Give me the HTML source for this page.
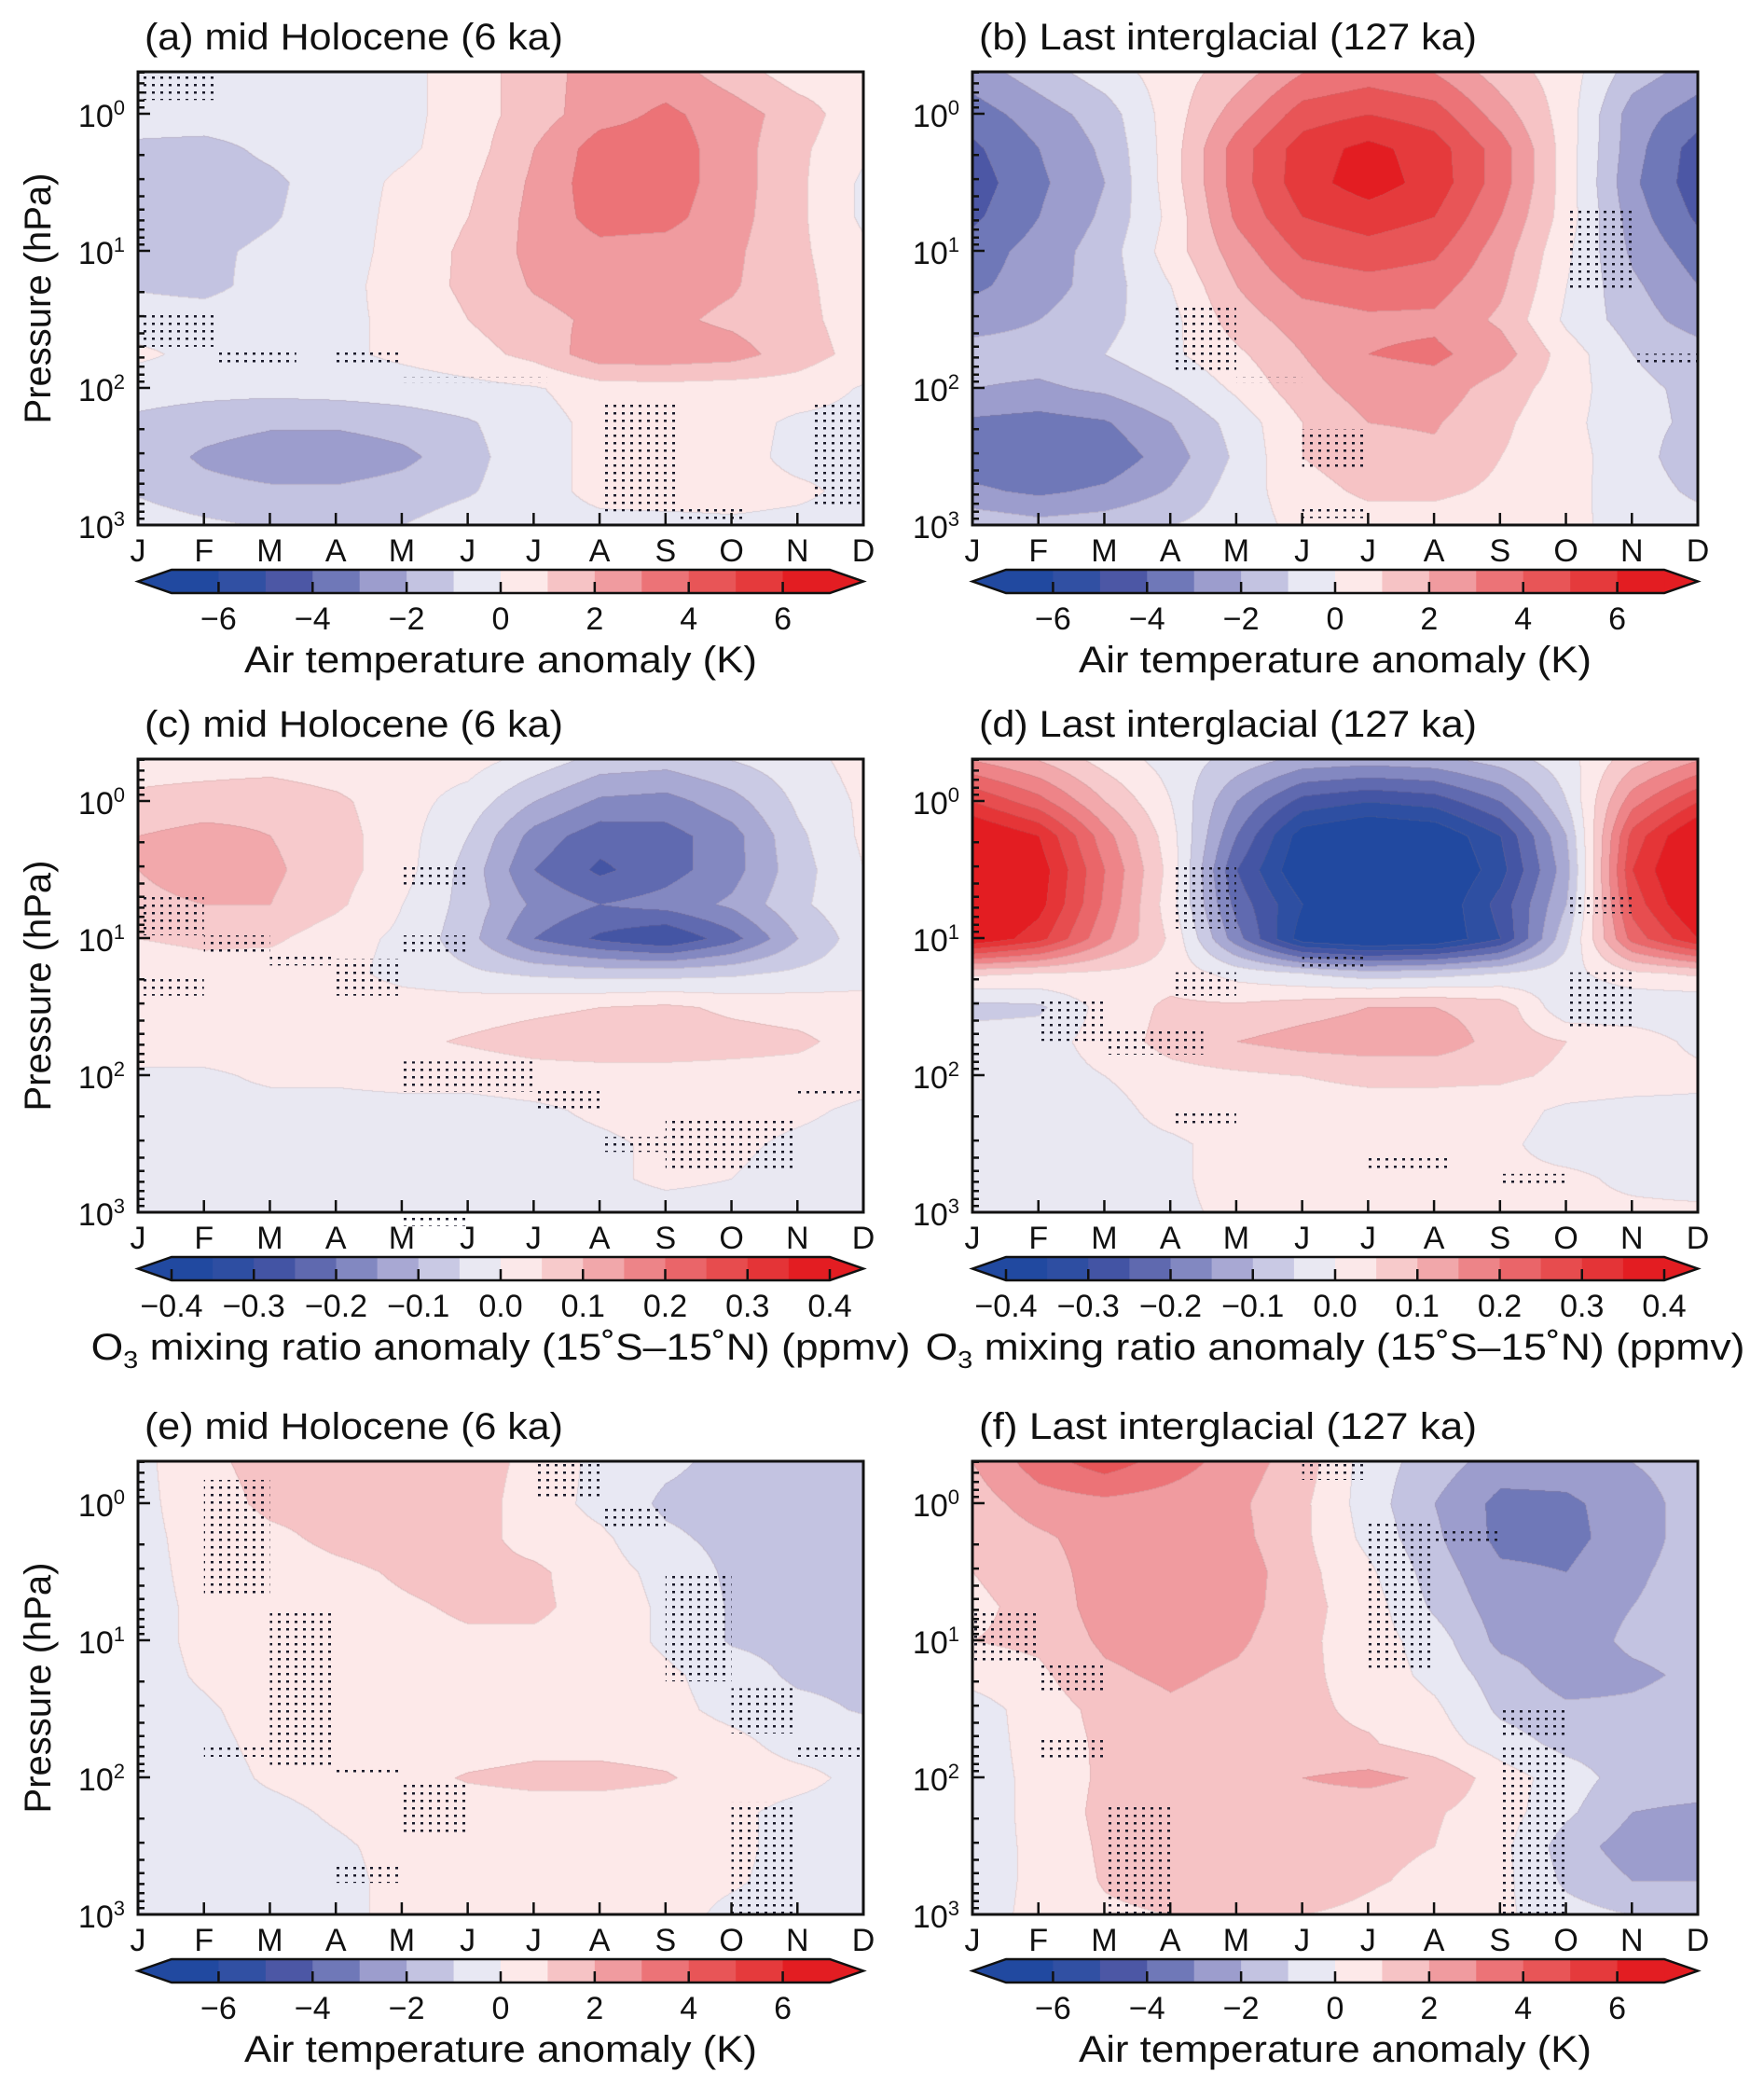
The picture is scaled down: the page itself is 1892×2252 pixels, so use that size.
<!DOCTYPE html>
<html><head><meta charset="utf-8">
<style>
html,body{margin:0;padding:0;background:#fff;}
#wrap{position:relative;width:1892px;height:2252px;overflow:hidden;}
#cv{position:absolute;left:0;top:0;}
#svg{position:absolute;left:0;top:0;}
text{font-family:"Liberation Sans Narrow","Liberation Sans","DejaVu Sans",sans-serif;fill:#111;}
</style></head>
<body>
<div id="wrap">
<canvas id="cv" width="1892" height="2252"></canvas>
<svg id="svg" width="1892" height="2252" viewBox="0 0 1892 2252" xmlns="http://www.w3.org/2000/svg">
<defs>
<pattern id="dots" width="9" height="8" patternUnits="userSpaceOnUse"><rect x="1" y="2" width="3" height="2.5" fill="#1a1a2a"/></pattern>
</defs>
</svg>
</div>
<script>
// ---------- data ----------
const months = ['J','F','M','A','M','J','J','A','S','O','N','D'];
const levels = [-0.3,0,0.25,0.5,0.75,1,1.25,1.5,1.75,2,2.25,2.5,2.75,3]; // log10(p)
const tempTicks = [-6,-4,-2,0,2,4,6];
const o3Ticks = [-0.4,-0.3,-0.2,-0.1,0.0,0.1,0.2,0.3,0.4];
const yTickExp = [0,1,2,3];

const gridA = [
[-0.5,-0.5,-0.5,-0.5,-0.3,0.5,1.5,2.5,2.5,1.5,0.5,0.5],
[-0.5,-0.5,-0.5,-0.5,-0.3,0.5,1.5,2.6,3.2,2.5,1.5,0.3],
[-1.2,-1.3,-0.8,-0.5,-0.2,0.5,2,3.5,3.5,2.5,1.2,0.2],
[-1.5,-1.5,-1.2,-0.5,0.2,0.8,2.2,3.6,3.5,2.5,1.2,-0.2],
[-1.5,-1.5,-1.1,-0.5,0.3,1.0,2.3,3.4,3.3,2.4,1.2,-0.2],
[-1.2,-1.2,-0.8,-0.5,0.4,1.2,2.3,2.7,2.6,2.2,1.2,0.2],
[-1.1,-1.3,-0.6,-0.4,0.5,1.2,2.1,2.5,2.4,2.1,1.3,0.3],
[-0.5,-0.5,-0.4,-0.3,0.3,1.0,1.7,2.2,2.2,1.8,1.3,0.5],
[0.2,-0.3,-0.2,-0.2,0.2,0.6,1.3,2.6,2.6,2.4,1.5,0.6],
[-0.6,-0.7,-0.7,-0.6,-0.5,-0.3,-0.1,0.5,0.6,0.5,0.5,-0.1],
[-1.2,-1.5,-1.8,-1.8,-1.5,-1.1,-0.4,0.3,0.4,0.4,-0.2,-0.3],
[-1.3,-2.2,-2.7,-2.8,-2.3,-1.3,-0.4,0.3,0.4,0.4,-0.3,-0.3],
[-1.1,-1.6,-1.8,-1.8,-1.5,-1.1,-0.4,0.3,0.4,0.4,0.2,-0.3],
[-0.5,-0.8,-1.1,-1.1,-1.0,-0.5,-0.4,-0.3,-0.3,-0.2,-0.3,-0.4]];
const gridB = [
[-2.5,-1.5,-0.5,0.5,1.5,3,3.5,3,1.5,0.5,-1.5,-2.5],
[-3.5,-2.5,-1.5,0.5,2.5,4.5,5,4.5,2.5,0.5,-2.5,-3.5],
[-4.2,-3,-1.8,0.5,3.5,5.5,6.3,5.5,3.5,0.5,-2.6,-4.5],
[-4.5,-3.2,-2,0.5,3.5,5.6,6.5,5.6,3.5,0.5,-2.8,-4.6],
[-4.2,-3,-1.8,0.3,3.2,5,5.5,5,3,0.5,-2.5,-4.2],
[-3.5,-2.6,-1.5,0.5,2.5,4.2,4.6,4.2,2.5,0.2,-2.2,-3.5],
[-3.2,-2.5,-1.5,0,2,3.3,3.6,3.4,2.2,0,-1.8,-3],
[-2.5,-2,-1.3,-0.3,1.5,2.5,2.8,2.8,1.8,-0.2,-1.5,-2.5],
[-1.5,-1.5,-1,-0.2,0.8,2,3,3.2,2.5,0.5,-1,-1.5],
[-2,-2.2,-1.8,-1,0.2,1.6,2.5,2.6,1.5,0.5,-0.8,-1.2],
[-3.2,-3.4,-3.1,-2,-0.6,1,2,2.1,1.2,0.3,-0.7,-1.2],
[-3.6,-3.9,-3.7,-2.5,-0.8,1,1.6,1.8,1,0.4,-0.6,-1.6],
[-2.8,-3.2,-2.8,-1.9,-0.5,0.6,1.2,1.2,0.8,0.3,-0.5,-1.2],
[-1.2,-1.6,-1.4,-1,-0.5,0.3,0.5,0.5,0.3,0.2,-0.3,-0.6]];
const gridC = [
[0.03,0.03,0.03,0.02,0.02,0.02,-0.02,-0.07,-0.08,-0.05,-0.02,0.02],
[0.06,0.07,0.08,0.06,0.02,-0.02,-0.1,-0.16,-0.17,-0.12,-0.04,0.01],
[0.1,0.12,0.1,0.07,0.02,-0.05,-0.17,-0.23,-0.22,-0.17,-0.06,0.01],
[0.1,0.12,0.11,0.07,0.02,-0.07,-0.2,-0.26,-0.22,-0.17,-0.07,0.0],
[0.09,0.1,0.1,0.06,0.0,-0.07,-0.16,-0.2,-0.18,-0.14,-0.06,-0.01],
[0.05,0.06,0.06,0.02,-0.01,-0.08,-0.2,-0.26,-0.3,-0.22,-0.1,-0.02],
[0.02,0.03,0.02,0.02,-0.02,-0.04,-0.06,-0.07,-0.07,-0.06,-0.04,-0.02],
[0.02,0.02,0.02,0.03,0.03,0.03,0.04,0.05,0.06,0.04,0.03,0.02],
[0.03,0.03,0.03,0.03,0.04,0.055,0.07,0.08,0.08,0.07,0.06,0.03],
[-0.01,-0.01,0.01,0.01,0.02,0.02,0.03,0.03,0.03,0.03,0.03,0.02],
[-0.02,-0.02,-0.02,-0.02,-0.02,-0.02,-0.01,0.01,0.02,0.02,0.01,-0.01],
[-0.02,-0.02,-0.02,-0.02,-0.02,-0.02,-0.02,-0.01,0.01,0.01,-0.01,-0.02],
[-0.02,-0.02,-0.02,-0.02,-0.02,-0.02,-0.02,-0.01,0.01,0.0,-0.02,-0.02],
[-0.02,-0.02,-0.02,-0.02,-0.02,-0.02,-0.02,-0.02,-0.02,-0.02,-0.02,-0.02]];
const gridD = [
[0.15,0.1,0.03,-0.02,-0.07,-0.12,-0.13,-0.12,-0.08,-0.02,0.08,0.15],
[0.3,0.22,0.1,0.0,-0.15,-0.27,-0.3,-0.28,-0.2,-0.05,0.18,0.3],
[0.42,0.35,0.17,0.02,-0.2,-0.38,-0.42,-0.4,-0.3,-0.1,0.27,0.42],
[0.45,0.38,0.2,0.03,-0.25,-0.4,-0.45,-0.42,-0.32,-0.12,0.3,0.45],
[0.45,0.37,0.19,0.02,-0.22,-0.35,-0.42,-0.4,-0.28,-0.1,0.27,0.42],
[0.4,0.32,0.16,0.04,-0.18,-0.38,-0.42,-0.4,-0.3,-0.06,0.22,0.35],
[0.06,0.05,0.04,0.03,-0.02,-0.05,-0.08,-0.07,-0.05,-0.02,0.04,0.06],
[-0.07,-0.06,0.02,0.06,0.06,0.08,0.1,0.1,0.08,-0.04,-0.05,-0.05],
[-0.02,-0.02,0.02,0.07,0.1,0.12,0.13,0.13,0.08,0.05,0.04,-0.02],
[-0.02,-0.02,0.0,0.03,0.04,0.05,0.06,0.06,0.06,0.04,0.03,0.02],
[-0.02,-0.02,-0.02,0.02,0.03,0.03,0.03,0.03,0.02,-0.01,-0.02,-0.02],
[-0.02,-0.02,-0.02,-0.01,0.02,0.03,0.03,0.03,0.01,-0.02,-0.02,-0.02],
[-0.02,-0.02,-0.02,-0.01,0.02,0.03,0.03,0.02,0.01,0.01,-0.01,-0.02],
[-0.02,-0.02,-0.02,-0.01,0.01,0.02,0.02,0.02,0.02,0.01,0.01,0.01]];
const gridE = [
[-0.3,0.8,1.3,1.4,1.5,1.5,0.7,-0.3,-0.8,-1.3,-1.5,-1.5],
[-0.3,0.6,1.2,1.3,1.5,1.5,0.5,-0.3,-1.2,-1.4,-1.5,-1.5],
[-0.3,0.4,0.8,1.2,1.4,1.4,0.6,0.2,-0.8,-1.3,-1.5,-1.5],
[-0.3,0.3,0.6,0.8,1.1,1.3,1.2,0.4,-0.3,-1.2,-1.4,-1.5],
[-0.3,0.2,0.5,0.7,0.9,1.1,1.2,0.6,-0.2,-1.1,-1.4,-1.5],
[-0.3,0.2,0.4,0.6,0.8,0.9,0.8,0.6,-0.2,-1.1,-1.3,-1.5],
[-0.3,0.1,0.4,0.5,0.6,0.6,0.6,0.5,0.2,-0.5,-1.2,-1.3],
[-0.3,-0.1,0.3,0.4,0.5,0.5,0.5,0.5,0.3,-0.3,-0.7,-1.1],
[-0.3,-0.2,0.2,0.3,0.4,0.5,0.7,0.7,0.6,0.3,-0.4,-0.4],
[-0.3,-0.3,0.1,0.3,0.6,1.1,1.3,1.3,1.1,0.5,0.3,-0.3],
[-0.3,-0.3,-0.2,0.1,0.3,0.4,0.5,0.5,0.4,0.2,-0.3,-0.4],
[-0.3,-0.3,-0.3,-0.1,0.2,0.3,0.4,0.4,0.3,0.2,-0.3,-0.4],
[-0.3,-0.3,-0.3,-0.2,0.2,0.3,0.4,0.3,0.3,0.1,-0.3,-0.4],
[-0.3,-0.3,-0.3,-0.2,0.2,0.3,0.3,0.3,0.3,-0.2,-0.3,-0.4]];
const gridF = [
[2,3.5,4.5,3.5,2.5,1.5,-0.5,-1.5,-2.5,-2.5,-2,-1.5],
[1.5,2.5,2.7,2.5,2.2,1.2,-0.5,-2,-3.3,-3.2,-2.5,-1.5],
[1.2,1.8,2.5,2.6,2.3,1.2,-0.3,-1.8,-3.3,-3.3,-2.5,-1.5],
[1.0,1.5,2.5,2.7,2.6,1.3,0.2,-1.5,-2.8,-3,-2.2,-1.5],
[0.8,1.3,2.5,2.7,2.5,1.3,0.5,-1.2,-2.5,-2.5,-2,-1.5],
[1.0,1.2,2.2,2.5,2.2,1.2,0.5,-0.5,-2.3,-2.5,-1.8,-1.6],
[0.4,0.8,1.8,2.2,1.8,1.2,0.6,-0.3,-1.5,-2.5,-2.2,-1.8],
[-0.5,0.5,1.3,1.8,1.5,1.2,0.8,0.2,-1.2,-1.8,-1.8,-1.6],
[-0.5,0.4,1.2,1.5,1.3,1.2,1.1,0.5,-0.5,-1.3,-1.5,-1.3],
[-0.5,0.3,1.2,1.6,1.5,2.0,2.3,1.8,0.5,-0.5,-1.5,-1.5],
[-0.5,0.3,1.3,1.6,1.5,1.5,1.3,1.1,0.5,-0.8,-2,-2.2],
[-0.4,0.2,1.2,1.6,1.6,1.6,1.2,1.0,0.3,-1.5,-2.5,-2.5],
[-0.4,0.2,1.1,1.5,1.5,1.5,1.1,0.8,0.3,-1.2,-2,-2],
[-0.3,0.2,0.8,1.0,1.0,1.0,0.8,0.5,0.2,-0.6,-1,-1.2]];

// stippled (significance) regions: [month0, month1, logp0, logp1]
const stipA = [[0,1.2,-0.28,-0.1],[0,1.2,1.45,1.7],[1.2,2.4,1.72,1.85],[3,4,1.72,1.85],[4,6.2,1.92,1.96],[7,8.2,2.12,2.9],[8.2,9.2,2.88,2.96],[10.2,11,2.12,2.85]];
const stipB = [[3,4,1.38,1.88],[5,6,2.3,2.6],[5,6,2.85,2.95],[9,10,0.7,1.3],[10,11,1.75,1.85],[4,5,1.92,1.96]];
const stipC = [[0,1,0.69,0.98],[0,1,1.27,1.42],[1,2,0.98,1.1],[2,3,1.1,1.2],[3,4,1.15,1.42],[4,5,0.45,0.64],[4,5,0.98,1.12],[4,6,1.9,2.12],[6,7,2.1,2.26],[7,8,2.45,2.56],[8,10,2.3,2.68],[10,11,2.1,2.15],[4,5,3.0,3.1]];
const stipD = [[3,4,0.45,0.93],[3,4,1.25,1.42],[1,2,1.45,1.75],[2,3.5,1.66,1.85],[5,6,1.12,1.24],[9,10,0.7,0.82],[9,10,1.25,1.68],[3,4,2.25,2.35],[6,7.2,2.6,2.68],[8,9,2.72,2.8]];
const stipE = [[1,2,-0.17,0.66],[2,3,0.8,1.93],[1,2,1.75,1.85],[3,4,1.92,1.98],[4,5,2.02,2.41],[3,4,2.65,2.77],[6,7,-0.3,-0.05],[7,8,0.02,0.2],[8,9,0.5,1.3],[9,10,1.35,1.68],[9,10,2.18,3.0],[10,11,1.75,1.85]];
const stipF = [[0,1,0.8,1.15],[1,2,1.15,1.4],[1,2,1.72,1.88],[2,3,2.2,3.0],[5,6,-0.3,-0.17],[6,7,0.15,1.2],[8,9,1.5,1.7],[8,9,1.75,3.0],[7,8,0.2,0.3]];

// ---------- layout ----------
const colX = [148, 1043];
const rowY = [77, 814, 1567];
const PW = 778, PH = 486, DEC = 147;
const palette = ['#2149a0','#3150a3','#4c57a5','#6f78b8','#9c9dcd','#c3c3e1','#e8e8f3','#fde9e9','#f6c3c5','#f09b9f','#ec7377','#e85557','#e53a3c','#e31d22'];

const panels = [
 {id:'a', title:'(a) mid Holocene (6 ka)', tl:449, grid:gridA, stip:stipA, kind:'T', c:0, r:0},
 {id:'b', title:'(b) Last interglacial (127 ka)', tl:534, grid:gridB, stip:stipB, kind:'T', c:1, r:0},
 {id:'c', title:'(c) mid Holocene (6 ka)', tl:449, grid:gridC, stip:stipC, kind:'O', c:0, r:1},
 {id:'d', title:'(d) Last interglacial (127 ka)', tl:534, grid:gridD, stip:stipD, kind:'O', c:1, r:1},
 {id:'e', title:'(e) mid Holocene (6 ka)', tl:449, grid:gridE, stip:stipE, kind:'T', c:0, r:2},
 {id:'f', title:'(f) Last interglacial (127 ka)', tl:534, grid:gridF, stip:stipF, kind:'T', c:1, r:2}
];

function hex2rgb(h){return [parseInt(h.substr(1,2),16),parseInt(h.substr(3,2),16),parseInt(h.substr(5,2),16)];}
const palRGB = palette.map(hex2rgb);
function rampColor(t){
  let p = t*14-0.5; if(p<=0) return palRGB[0]; if(p>=13) return palRGB[13];
  const i=Math.floor(p), f=p-i, a=palRGB[i], b=palRGB[i+1];
  return [a[0]+(b[0]-a[0])*f, a[1]+(b[1]-a[1])*f, a[2]+(b[2]-a[2])*f];
}
const scales = {T:{lo:-7,hi:7,n:14}, O:{lo:-0.4,hi:0.4,n:16}};
function binOf(v,s){let k=Math.floor((v-s.lo)/(s.hi-s.lo)*s.n); return Math.max(0,Math.min(s.n-1,k));}
function binColor(k,s){ return s.n===14 ? palRGB[k] : rampColor((k+0.5)/s.n); }

function xScale(p,m){return colX[p.c] + m/11*PW;}
function yScale(p,lp){return rowY[p.r] + (lp+0.306)*DEC;}
function sample(grid,m,lp){
  m=Math.max(0,Math.min(11,m));
  let j=Math.min(10,Math.floor(m)), fx=m-j;
  let i=0; while(i<levels.length-2 && lp>levels[i+1]) i++;
  let fy=(lp-levels[i])/(levels[i+1]-levels[i]); fy=Math.max(0,Math.min(1,fy));
  const a=grid[i][j], b=grid[i][j+1], c=grid[i+1][j], d=grid[i+1][j+1];
  return (a*(1-fx)+b*fx)*(1-fy)+(c*(1-fx)+d*fx)*fy;
}

// ---------- draw fills ----------
const ctx = document.getElementById('cv').getContext('2d');
panels.forEach(p=>{
  const s=scales[p.kind], x0=colX[p.c], y0=rowY[p.r];
  const img=ctx.createImageData(PW,PH);
  const bins=new Int16Array(PW*PH);
  for(let y=0;y<PH;y++){const lp=y/DEC-0.306;
    for(let x=0;x<PW;x++){bins[y*PW+x]=binOf(sample(p.grid,x/PW*11,lp),s);}}
  for(let y=0;y<PH;y++)for(let x=0;x<PW;x++){
    const k=bins[y*PW+x]; let c=binColor(k,s);
    const edge=(x>0&&bins[y*PW+x-1]!==k)||(y>0&&bins[(y-1)*PW+x]!==k);
    if(edge) c=[c[0]*0.8+150*0.2,c[1]*0.8+120*0.2,c[2]*0.8+120*0.2];
    const o=(y*PW+x)*4; img.data[o]=c[0];img.data[o+1]=c[1];img.data[o+2]=c[2];img.data[o+3]=255;}
  ctx.putImageData(img,x0,y0);
});

// ---------- svg overlay ----------
const svg=document.getElementById('svg');
const NS='http://www.w3.org/2000/svg';
function mk(tag,attrs,parent){const e=document.createElementNS(NS,tag);for(const k in attrs)e.setAttribute(k,attrs[k]);(parent||svg).appendChild(e);return e;}
function fmtT(v){return v<0?'\u2212'+Math.abs(v):String(v);}
function fmtO(v){const s=Math.abs(v).toFixed(1);return v<-1e-9?'\u2212'+s:s;}

panels.forEach(p=>{
  const x0=colX[p.c], y0=rowY[p.r], s=scales[p.kind];
  const g=mk('g',{});
  
  
  p.stip.forEach((st,i)=>{
    const r=mk('rect',{x:xScale(p,st[0]),y:yScale(p,st[2]),width:xScale(p,st[1])-xScale(p,st[0]),height:yScale(p,st[3])-yScale(p,st[2]),fill:'url(#dots)'},g);
    
    
  });
  const t=mk('text',{x:x0+7,y:y0-24,'font-size':40,textLength:p.tl,lengthAdjust:'spacingAndGlyphs'},g);
  t.textContent=p.title;
  
  
  for(let e=-1;e<=3;e++){for(let k=1;k<=9;k++){
    const lp=e+Math.log10(k); if(lp< -0.306||lp>3.0001) continue;
    const y=yScale(p,lp), L=(k===1)?13:7;
    const tk=mk('line',{x1:x0,x2:x0+L,y1:y,y2:y,stroke:'#111','stroke-width':2.5},g);
    
    
  }}
  yTickExp.forEach(e=>{
    const y=yScale(p,e);
    const lab=mk('text',{x:x0-14,y:y+14,'font-size':34,'text-anchor':'end'},g);
    
    
    const t1=mk('tspan',{},lab); t1.textContent='10';
    const t2=mk('tspan',{dy:-13,'font-size':22},lab); t2.textContent=String(e);
  });
  months.forEach((m,i)=>{
    const x=xScale(p,i);
    if(i>0&&i<11){const tk=mk('line',{x1:x,x2:x,y1:y0+PH,y2:y0+PH-13,stroke:'#111','stroke-width':2.5},g);
      
      }
    const lab=mk('text',{x:x,y:y0+PH+39,'font-size':34,'text-anchor':'middle'},g);
    lab.textContent=m;
    
    
  });
  const fr=mk('rect',{x:x0,y:y0,width:PW,height:PH,fill:'none',stroke:'#111','stroke-width':3},g);
  
  
  if(p.c===0){
    const yl=mk('text',{x:0,y:0,'font-size':40,'text-anchor':'middle',transform:`translate(54,${y0+PH/2}) rotate(-90)`},g);
    yl.textContent='Pressure (hPa)';
    
    
  }
  const cb=mk('g',{},g);
  
  
  const bx0=x0+36, bx1=x0+PW-36, by0=y0+PH+48, by1=y0+PH+73, bw=(bx1-bx0)/s.n;
  const cAt=k=>{const c=binColor(k,s);return `rgb(${c[0]|0},${c[1]|0},${c[2]|0})`;};
  const la=mk('polygon',{points:`${x0},${(by0+by1)/2} ${bx0},${by0} ${bx0},${by1}`,fill:cAt(0)},cb);
  
  
  const ra=mk('polygon',{points:`${x0+PW},${(by0+by1)/2} ${bx1},${by0} ${bx1},${by1}`,fill:cAt(s.n-1)},cb);
  
  
  for(let k=0;k<s.n;k++){
    const r=mk('rect',{x:bx0+k*bw,y:by0,width:bw+0.6,height:by1-by0,fill:cAt(k)},cb);
    
    
  }
  const ol=mk('polygon',{points:`${x0},${(by0+by1)/2} ${bx0},${by0} ${bx1},${by0} ${x0+PW},${(by0+by1)/2} ${bx1},${by1} ${bx0},${by1}`,fill:'none',stroke:'#111','stroke-width':2.5},cb);
  
  
  const ticks=p.kind==='T'?tempTicks:o3Ticks;
  ticks.forEach(v=>{
    const x=bx0+(v-s.lo)/(s.hi-s.lo)*(bx1-bx0);
    const tk=mk('line',{x1:x,x2:x,y1:by1,y2:by1-12,stroke:'#111','stroke-width':2.5},cb);
    
    
    const lab=mk('text',{x:x,y:y0+PH+112,'font-size':34,'text-anchor':'middle'},cb);
    lab.textContent=p.kind==='T'?fmtT(v):fmtO(v);
    
    
  });
  const cx=x0+PW/2;
  if(p.kind==='T'){
    const ct=mk('text',{x:cx,y:y0+PH+158,'font-size':40,'text-anchor':'middle',textLength:550,lengthAdjust:'spacingAndGlyphs'},cb);
    ct.textContent='Air temperature anomaly (K)';
    
    
  } else {
    const ct=mk('text',{x:cx,y:y0+PH+158,'font-size':40,'text-anchor':'middle'},cb);
    
    
    const a=mk('tspan',{},ct); a.textContent='O';
    const b=mk('tspan',{dy:9,'font-size':26},ct); b.textContent='3';
    const c=mk('tspan',{dy:-9},ct); c.textContent=' mixing ratio anomaly (15\u02daS\u201315\u02daN) (ppmv)';
    const w=ct.getComputedTextLength?ct.getComputedTextLength():0;
    if(w>0){const sc=879/w; ct.setAttribute('transform',`translate(${cx},0) scale(${sc},1) translate(${-cx},0)`);}
  }
});
</script>
</body></html>
